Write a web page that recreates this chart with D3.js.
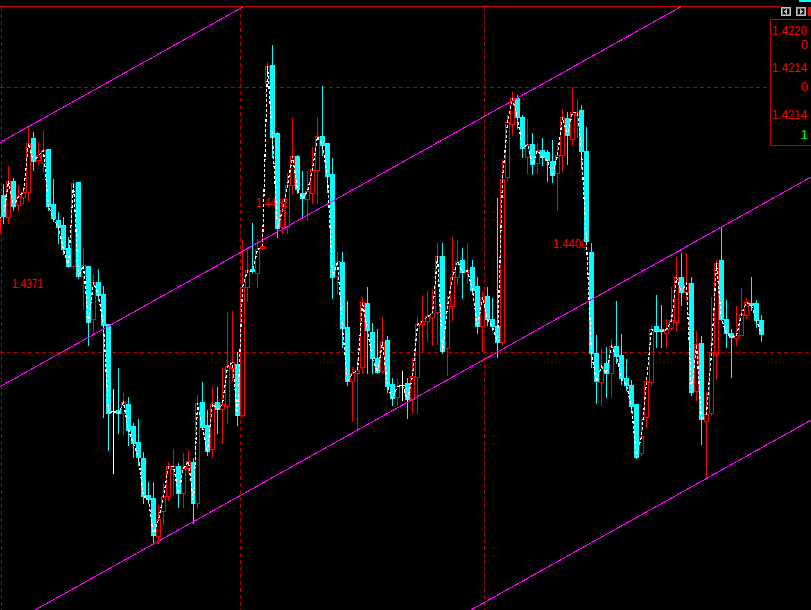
<!DOCTYPE html>
<html><head><meta charset="utf-8">
<script src="https://cdn.jsdelivr.net/npm/d3@7"></script>
<style>html,body{margin:0;padding:0;background:#000;overflow:hidden}svg{display:block}</style>
</head><body><svg id="c" width="811" height="610"></svg>
<script>
// ---- data (bar index starts at -1: first bar is only partly visible) ----
const firstBar = -1;
const open = [1.44768,1.44805,1.44783,1.44819,1.44795,1.44803,1.44808,1.44862,1.44840,1.44837,1.44851,1.44796,1.44780,1.44775,1.44752,1.44734,1.44818,1.44724,1.44734,1.44681,1.44718,1.44706,1.44676,1.44589,1.44590,1.44587,1.44596,1.44574,1.44558,1.44542,1.44505,1.44502,1.44464,1.44489,1.44504,1.44531,1.44534,1.44507,1.44532,1.44538,1.44497,1.44598,1.44575,1.44551,1.44598,1.44591,1.44594,1.44632,1.44636,1.44585,1.44713,1.44731,1.44727,1.44752,1.44917,1.44935,1.44867,1.44773,1.44773,1.44815,1.44844,1.44807,1.44801,1.44807,1.44830,1.44864,1.44857,1.44826,1.44724,1.44738,1.44673,1.44619,1.44627,1.44633,1.44697,1.44668,1.44642,1.44629,1.44660,1.44616,1.44603,1.44615,1.44617,1.44601,1.44623,1.44676,1.44679,1.44683,1.44688,1.44744,1.44652,1.44694,1.44723,1.44740,1.44728,1.44733,1.44714,1.44674,1.44704,1.44681,1.44674,1.44658,1.44823,1.44876,1.44902,1.44883,1.44843,1.44856,1.44837,1.44850,1.44848,1.44839,1.44827,1.44845,1.44882,1.44861,1.44885,1.44890,1.44849,1.44748,1.44647,1.44618,1.44637,1.44627,1.44654,1.44645,1.44622,1.44615,1.44596,1.44547,1.44583,1.44618,1.44674,1.44671,1.44667,1.44672,1.44678,1.44723,1.44708,1.44717,1.44609,1.44657,1.44579,1.44587,1.44646,1.44740,1.44681,1.44667,1.44662,1.44665,1.44685,1.44697,1.44697,1.44680];
const high = [1.44788,1.44816,1.44834,1.44822,1.44815,1.44813,1.44873,1.44868,1.44858,1.44870,1.44851,1.44821,1.44788,1.44783,1.44763,1.44820,1.44818,1.44752,1.44734,1.44726,1.44731,1.44714,1.44676,1.44611,1.44632,1.44607,1.44603,1.44577,1.44581,1.44548,1.44518,1.44518,1.44495,1.44517,1.44538,1.44551,1.44537,1.44547,1.44550,1.44542,1.44605,1.44618,1.44590,1.44613,1.44613,1.44633,1.44688,1.44689,1.44648,1.44760,1.44753,1.44777,1.44761,1.44772,1.44938,1.44955,1.44868,1.44800,1.44827,1.44882,1.44845,1.44829,1.44829,1.44853,1.44883,1.44914,1.44857,1.44842,1.44748,1.44748,1.44699,1.44633,1.44642,1.44703,1.44713,1.44677,1.44671,1.44683,1.44664,1.44622,1.44622,1.44629,1.44622,1.44642,1.44683,1.44704,1.44709,1.44710,1.44757,1.44757,1.44704,1.44763,1.44760,1.44752,1.44757,1.44740,1.44723,1.44709,1.44713,1.44702,1.44802,1.44841,1.44885,1.44908,1.44905,1.44885,1.44881,1.44867,1.44857,1.44862,1.44850,1.44860,1.44855,1.44891,1.44888,1.44913,1.44901,1.44895,1.44873,1.44757,1.44665,1.44652,1.44653,1.44661,1.44699,1.44666,1.44641,1.44620,1.44596,1.44580,1.44623,1.44675,1.44705,1.44695,1.44681,1.44713,1.44743,1.44747,1.44747,1.44723,1.44669,1.44664,1.44608,1.44703,1.44740,1.44773,1.44700,1.44671,1.44694,1.44712,1.44702,1.44723,1.44700,1.44685];
const low = [1.44764,1.44777,1.44777,1.44790,1.44790,1.44796,1.44800,1.44830,1.44835,1.44828,1.44790,1.44779,1.44757,1.44746,1.44733,1.44732,1.44722,1.44691,1.44655,1.44667,1.44700,1.44583,1.44550,1.44527,1.44567,1.44566,1.44555,1.44543,1.44535,1.44497,1.44497,1.44457,1.44457,1.44476,1.44500,1.44505,1.44493,1.44493,1.44528,1.44477,1.44493,1.44573,1.44545,1.44543,1.44567,1.44557,1.44577,1.44620,1.44575,1.44583,1.44699,1.44728,1.44713,1.44751,1.44914,1.44843,1.44763,1.44767,1.44767,1.44807,1.44807,1.44784,1.44780,1.44797,1.44797,1.44845,1.44808,1.44702,1.44707,1.44653,1.44615,1.44580,1.44570,1.44627,1.44627,1.44627,1.44627,1.44627,1.44608,1.44595,1.44595,1.44600,1.44582,1.44587,1.44587,1.44650,1.44659,1.44655,1.44656,1.44647,1.44625,1.44680,1.44716,1.44702,1.44717,1.44707,1.44667,1.44649,1.44675,1.44670,1.44643,1.44655,1.44820,1.44865,1.44872,1.44843,1.44827,1.44826,1.44827,1.44835,1.44819,1.44818,1.44790,1.44829,1.44836,1.44855,1.44863,1.44832,1.44756,1.44633,1.44597,1.44595,1.44603,1.44603,1.44637,1.44616,1.44610,1.44590,1.44542,1.44545,1.44573,1.44615,1.44653,1.44653,1.44653,1.44670,1.44670,1.44695,1.44700,1.44605,1.44600,1.44556,1.44521,1.44585,1.44621,1.44680,1.44653,1.44623,1.44655,1.44665,1.44682,1.44690,1.44673,1.44659];
const close = [1.44782,1.44784,1.44819,1.44794,1.44804,1.44808,1.44857,1.44839,1.44845,1.44850,1.44794,1.44782,1.44773,1.44751,1.44734,1.44817,1.44724,1.44735,1.44678,1.44718,1.44705,1.44675,1.44587,1.44589,1.44587,1.44598,1.44570,1.44557,1.44543,1.44504,1.44501,1.44465,1.44481,1.44504,1.44534,1.44534,1.44507,1.44532,1.44539,1.44497,1.44597,1.44573,1.44549,1.44597,1.44591,1.44596,1.44634,1.44638,1.44585,1.44713,1.44730,1.44729,1.44751,1.44754,1.44934,1.44863,1.44772,1.44790,1.44815,1.44844,1.44811,1.44802,1.44809,1.44831,1.44864,1.44855,1.44824,1.44723,1.44739,1.44672,1.44619,1.44627,1.44630,1.44698,1.44670,1.44642,1.44628,1.44658,1.44614,1.44602,1.44614,1.44615,1.44601,1.44624,1.44676,1.44679,1.44684,1.44687,1.44744,1.44649,1.44694,1.44723,1.44739,1.44728,1.44730,1.44710,1.44674,1.44703,1.44681,1.44674,1.44658,1.44821,1.44878,1.44902,1.44883,1.44852,1.44856,1.44836,1.44850,1.44843,1.44840,1.44825,1.44845,1.44883,1.44865,1.44888,1.44888,1.44849,1.44759,1.44647,1.44619,1.44634,1.44627,1.44654,1.44644,1.44622,1.44615,1.44594,1.44543,1.44564,1.44619,1.44671,1.44669,1.44669,1.44671,1.44680,1.44723,1.44708,1.44717,1.44608,1.44656,1.44581,1.44586,1.44648,1.44737,1.44681,1.44667,1.44663,1.44665,1.44686,1.44698,1.44695,1.44680,1.44666];

// grid levels / period separators
const gridPrices = [1.44913, 1.44648];
const gridBars = [-0.5, 47.4, 96.35];

// channel lines: [bar, price] end points
const channelBars = [-2, 165];
const channelA = [1.448539, 1.453186];
const channelB = [1.446097, 1.450744];
const channelC = [1.443668, 1.448315];
const channelD = [1.441237, 1.445884];

// price notes drawn on the chart
const noteText = ["1.4371", "1.4432", "1.4400"];
const noteBar = [1.7, 50.6, 110.2];
const notePrice = [1.44712, 1.44793, 1.44752];
const noteWidth = [31, 32, 34];

// info panel
const panelText = ["1.4220", "0", "1.4214", "0", "1.4214", "1"];
const panelColor = ["#ff0000", "#ff0000", "#ff0000", "#ff0000", "#ff0000", "#00ff00"];

// ---- drawing ----
const W = 811, H = 610;
const svg = d3.select("#c");
svg.append("rect").attr("width", W).attr("height", H).attr("fill", "#000");

const x = d3.scaleLinear().domain([0, 152]).range([3.5, 3.5 + 4.987 * 152]);
const y = d3.scaleLinear().domain([1.45, 1.4439]).range([0, H]);

const bars = open.map((o, k) => ({i: firstBar + k, o, h: high[k], l: low[k], c: close[k]}));

const GRID = "#b40000";
svg.append("clipPath").attr("id", "plot").append("rect").attr("x", 0).attr("y", 7).attr("width", W).attr("height", H - 7);
const plot = svg.append("g").attr("clip-path", "url(#plot)").attr("shape-rendering", "crispEdges");

// grid
plot.selectAll(".hg").data(gridPrices).join("line")
  .attr("x1", 0).attr("x2", (d, k) => k === 0 ? 770 : W)
  .attr("y1", d => Math.round(y(d)) + 0.5).attr("y2", d => Math.round(y(d)) + 0.5)
  .attr("stroke", GRID).attr("stroke-dasharray", "4,3");
plot.selectAll(".vg").data(gridBars).join("line")
  .attr("x1", d => Math.round(x(d)) + 0.5).attr("x2", d => Math.round(x(d)) + 0.5)
  .attr("y1", 7).attr("y2", H)
  .attr("stroke", GRID).attr("stroke-dasharray", "4,3");

// notes (behind candles)
plot.selectAll(".note").data(noteText).join("text")
  .attr("x", (d, k) => x(noteBar[k])).attr("y", (d, k) => y(notePrice[k]))
  .attr("textLength", (d, k) => noteWidth[k]).attr("lengthAdjust", "spacingAndGlyphs")
  .attr("font-family", "'Liberation Sans Narrow','Liberation Sans',Arial,sans-serif")
  .attr("font-size", 13).attr("fill", "#ff0000").text(d => d);

// candles
const UP = "#ff0000", DN = "#00ffff", DOJI = "#ffffff";
const cg = plot.append("g");
bars.forEach(b => {
  const left = Math.round(x(b.i) - 2.5);
  const cx = left + 2.5;
  const yo = Math.round(y(b.o)), yc = Math.round(y(b.c));
  const yh = Math.round(y(b.h)), yl = Math.round(y(b.l));
  const top = Math.min(yo, yc), bot = Math.max(yo, yc);
  if (b.c > b.o) {
    cg.append("line").attr("x1", cx).attr("x2", cx).attr("y1", yh).attr("y2", top).attr("stroke", UP);
    cg.append("line").attr("x1", cx).attr("x2", cx).attr("y1", bot + 1).attr("y2", yl + 1).attr("stroke", UP);
    cg.append("rect").attr("x", left + 0.5).attr("y", top + 0.5).attr("width", 4).attr("height", Math.max(bot - top, 1))
      .attr("fill", "none").attr("stroke", UP);
  } else if (b.c < b.o) {
    cg.append("line").attr("x1", cx).attr("x2", cx).attr("y1", yh).attr("y2", yl + 1).attr("stroke", DN);
    cg.append("rect").attr("x", left).attr("y", top).attr("width", 5).attr("height", bot - top + 1).attr("fill", DN);
  } else {
    cg.append("line").attr("x1", cx).attr("x2", cx).attr("y1", yh).attr("y2", yl + 1).attr("stroke", DOJI);
    cg.append("line").attr("x1", left).attr("x2", left + 5).attr("y1", yo + 0.5).attr("y2", yo + 0.5).attr("stroke", DOJI);
  }
});

// close line (dashed white)
plot.append("path").datum(bars)
  .attr("d", d3.line().x(b => Math.round(x(b.i) - 2.5) + 2.5).y(b => Math.round(y(b.c)) + 0.5))
  .attr("fill", "none").attr("stroke", "#ffffff").attr("stroke-width", 1.2)
  .attr("stroke-dasharray", "3,2");

// channel lines
[channelA, channelB, channelC, channelD].forEach(p => {
  plot.append("line")
    .attr("x1", x(channelBars[0])).attr("y1", y(p[0]))
    .attr("x2", x(channelBars[1])).attr("y2", y(p[1]))
    .attr("stroke", "#ff00ff").attr("stroke-width", 1.1);
});

// top frame line
svg.append("line").attr("x1", 0).attr("x2", 781).attr("y1", 6.5).attr("y2", 6.5)
  .attr("stroke", "#c80000").attr("shape-rendering", "crispEdges");

// scroll buttons
const btn = svg.append("g").attr("shape-rendering", "crispEdges");
[781, 796].forEach((bx, k) => {
  btn.append("rect").attr("x", bx + 0.5).attr("y", 7.5).attr("width", 9).attr("height", 8)
    .attr("fill", "#000").attr("stroke", "#c0c0c0");
  btn.append("rect").attr("x", bx + 1.5).attr("y", 8.5).attr("width", 7).attr("height", 6)
    .attr("fill", "none").attr("stroke", "#808080");
  const pts = k === 0
    ? [[bx + 3, 11.5], [bx + 6, 8.5], [bx + 6, 14.5]]
    : [[bx + 7, 11.5], [bx + 4, 8.5], [bx + 4, 14.5]];
  btn.append("polygon").attr("points", pts.map(p => p.join(",")).join(" ")).attr("fill", "#c0c0c0");
});
btn.append("rect").attr("x", 808).attr("y", 7).attr("width", 3).attr("height", 9).attr("fill", "#ff0000");
btn.append("rect").attr("x", 799).attr("y", 0).attr("width", 12).attr("height", 2).attr("fill", "#00ffff");

// info panel
const panel = svg.append("g");
panel.append("rect").attr("x", 770.5).attr("y", 19.5).attr("width", 50).attr("height", 126)
  .attr("fill", "#000").attr("stroke", "#c80000").attr("shape-rendering", "crispEdges");
const panelY = [35, 49, 72, 91, 119, 139];
panel.selectAll("text").data(panelText).join("text")
  .attr("x", d => d.length > 1 ? 772 : 808)
  .attr("text-anchor", d => d.length > 1 ? "start" : "end")
  .attr("y", (d, k) => panelY[k])
  .attr("textLength", d => d.length > 1 ? 35 : null).attr("lengthAdjust", "spacingAndGlyphs")
  .attr("font-family", "'Liberation Sans Narrow','Liberation Sans',Arial,sans-serif")
  .attr("font-size", 13).attr("fill", (d, k) => panelColor[k]).text(d => d);
</script>
</body></html>
